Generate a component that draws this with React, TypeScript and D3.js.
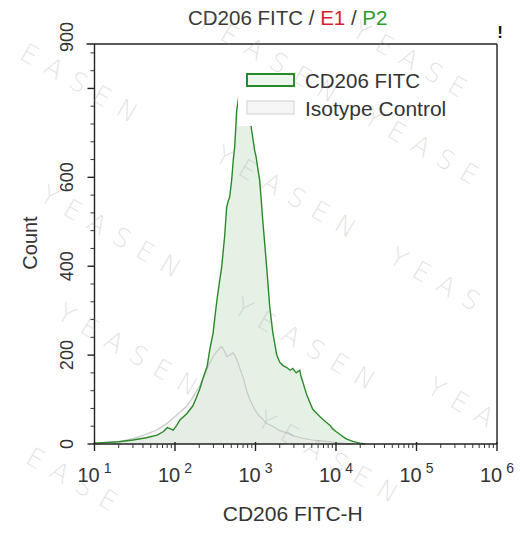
import React from "react";
import * as d3 from "d3";

// ---------- data ----------
const cd206Bins = [10, 20, 30, 44, 60, 72, 80, 88, 95, 105, 115, 140, 167, 185, 204, 225, 251, 270, 297, 315, 332, 355, 380, 400, 414, 438, 460, 478, 506, 530, 551, 570, 583, 600, 640, 690, 740, 800, 850, 897, 977, 1020, 1064, 1127, 1180, 1230, 1300, 1377, 1502, 1637, 1836, 2000, 2180, 2443, 2700, 2901, 3200, 3548, 3700, 3866, 4335, 4700, 5145, 5700, 6290, 7000, 7690, 8400, 9120, 10000, 11140, 12300, 13620, 16180, 19780, 23000];
const cd206Counts = [2, 5, 9, 14, 20, 28, 37, 34, 31, 42, 54, 68, 86, 105, 125, 150, 175, 212, 249, 290, 324, 362, 398, 440, 468, 532, 548, 556, 594, 640, 668, 715, 750, 765, 800, 820, 815, 790, 740, 705, 660, 645, 622, 593, 548, 504, 452, 398, 309, 252, 200, 184, 177, 172, 166, 170, 160, 166, 150, 140, 110, 95, 78, 70, 62, 54, 48, 42, 34, 28, 22, 16, 11, 6, 2, 0];

const isoBins = [10, 20, 30, 44, 60, 79, 100, 120, 140, 166, 204, 240, 270, 300, 330, 360, 380, 410, 440, 478, 525, 560, 600, 640, 713, 780, 850, 977, 1100, 1230, 1380, 1637, 2000, 2443, 3000, 3866, 5000, 7690, 10000, 13000, 16000];
const isoCounts = [2, 5, 12, 22, 32, 46, 62, 75, 85, 105, 132, 160, 182, 198, 208, 216, 219, 210, 197, 200, 205, 198, 185, 170, 146, 118, 100, 78, 64, 56, 46, 40, 30, 25, 18, 13, 9, 6, 3, 1, 0];

const xDomain = [10, 1e6];
const xMajorExps = [1, 2, 3, 4, 5, 6];
const yDomain = [0, 900];
const yMajorTicks = [0, 200, 400, 600, 800];
const yLabelTicks = [0, 200, 400, 600];
const yTopLabel = 900;

const titleParts = [
  { text: "CD206 FITC / ", color: "#3a3a3a" },
  { text: "E1", color: "#d81e2c" },
  { text: " / ", color: "#3a3a3a" },
  { text: "P2", color: "#2d9a2d" },
];
const legendItems = ["CD206 FITC", "Isotype Control"];
const xTitle = "CD206 FITC-H";
const yTitle = "Count";

const watermarkSpots: [number, number, string][] = [
  [18, 58, "EASEN"], [38, 200, "YEASEN"], [55, 318, "YEASEN"], [24, 462, "EASE"],
  [195, 25, "YEASEN"], [213, 160, "YEASEN"], [232, 312, "YEASEN"], [255, 425, "YEASEN"],
  [350, 35, "YEASE"], [362, 122, "YEASE"], [387, 262, "YEAS"], [425, 392, "YEA"],
];

// ---------- layout ----------
const W = 520, H = 534;
const L = 94.5, R = 497, T = 44, B = 444;
const FONT = "'Liberation Sans', Arial, sans-serif";
const GREEN = "#2a8a2a";

export default function App() {
  const x = d3.scaleLog().domain(xDomain).range([L, R]);
  const y = d3.scaleLinear().domain(yDomain).range([B, T]);

  const cd = cd206Bins.map((v, i) => [v, cd206Counts[i]] as [number, number]);
  const iso = isoBins.map((v, i) => [v, isoCounts[i]] as [number, number]);

  const area = d3.area<[number, number]>()
    .x(d => x(d[0]))
    .y0(y(0))
    .y1(d => y(d[1]));
  const line = d3.line<[number, number]>()
    .x(d => x(d[0]))
    .y(d => y(d[1]));

  const minorX: number[] = [];
  for (let e = 1; e < 6; e++) for (let m = 2; m <= 9; m++) minorX.push(m * Math.pow(10, e));
  const minorY = d3.range(0, 900, 40).filter(v => v % 200 !== 0);

  return (
    <svg width={W} height={H} style={{ position: "absolute", left: 0, top: 0, background: "#fff" }} fontFamily={FONT}>
      <rect x={0} y={0} width={W} height={H} fill="#fff" />

      {/* histograms */}
      <path d={area(cd) || ""} fill="#e5f1e5" />
      <path d={area(iso) || ""} fill="#e6e6e6" fillOpacity={0.35} />
      <path d={line(iso) || ""} fill="none" stroke="#c8c8c8" strokeWidth={1.2} />
      <path d={line(cd) || ""} fill="none" stroke={GREEN} strokeWidth={1.4} />

      {/* frame */}
      <line x1={L - 8} x2={R} y1={T} y2={T} stroke="#222" strokeWidth={1.4} />
      <line x1={R} x2={R} y1={T} y2={B} stroke="#222" strokeWidth={1.4} />
      <line x1={L} x2={L} y1={T} y2={B} stroke="#222" strokeWidth={1.4} />
      <line x1={L - 1} x2={R} y1={B} y2={B} stroke="#222" strokeWidth={1.4} />

      {/* x ticks */}
      {xMajorExps.map(e => (
        <line key={"xm" + e} x1={x(Math.pow(10, e))} x2={x(Math.pow(10, e))} y1={B - 2} y2={B + 7} stroke="#222" strokeWidth={1.4} />
      ))}
      {minorX.map(v => (
        <line key={"xn" + v} x1={x(v)} x2={x(v)} y1={B} y2={B + 4} stroke="#333" strokeWidth={1} />
      ))}
      {xMajorExps.map(e => (
        <text key={"xl" + e} x={x(Math.pow(10, e))} y={482} textAnchor="middle" fontSize={20} fill="#333">
          10<tspan dx={4} dy={-9} fontSize={14}>{e}</tspan>
        </text>
      ))}

      {/* y ticks */}
      {yMajorTicks.map(v => (
        <line key={"ym" + v} x1={L - 7} x2={L} y1={y(v)} y2={y(v)} stroke="#222" strokeWidth={1.4} />
      ))}
      {minorY.map(v => (
        <line key={"yn" + v} x1={L - 4} x2={L} y1={y(v)} y2={y(v)} stroke="#333" strokeWidth={1} />
      ))}
      {yLabelTicks.map(v => (
        <text key={"yl" + v} transform={`translate(73,${y(v)}) rotate(-90)`} textAnchor="middle" fontSize={18} fill="#333">{v}</text>
      ))}
      <text transform={`translate(73,${y(yTopLabel) - 7}) rotate(-90)`} textAnchor="middle" fontSize={18} fill="#333">{yTopLabel}</text>

      {/* titles */}
      <text x={188} y={25} fontSize={20.5}>
        {titleParts.map((p, i) => <tspan key={i} fill={p.color}>{p.text}</tspan>)}
      </text>
      <text x={500} y={38} fontSize={17} fontWeight="bold" fill="#111" textAnchor="middle">!</text>
      <text x={(L + R) / 2 - 3} y={521} textAnchor="middle" fontSize={21} fill="#333">{xTitle}</text>
      <text transform={`translate(37,243) rotate(-90)`} textAnchor="middle" fontSize={20} fill="#333">{yTitle}</text>

      {/* legend */}
      <rect x={238} y={66} width={225} height={60} fill="#fff" />
      <rect x={247} y={74} width={47} height={12} fill="#eef6ee" stroke={GREEN} strokeWidth={2} />
      <rect x={247} y={101} width={47} height={13} fill="#f6f6f6" stroke="#d0d0d0" strokeWidth={1} />
      <text x={305} y={88} fontSize={20.5} fill="#333">{legendItems[0]}</text>
      <text x={305} y={116} fontSize={21} fill="#333">{legendItems[1]}</text>

      {/* watermark */}
      {watermarkSpots.map(([wx, wy, word], i) => (
        <text key={"wm" + i} transform={`translate(${wx},${wy}) rotate(30)`} fontSize={26} letterSpacing={11} fill="#999" fillOpacity={0.28} fontFamily="'DejaVu Sans', sans-serif" fontWeight={200}>{word}</text>
      ))}
    </svg>
  );
}
